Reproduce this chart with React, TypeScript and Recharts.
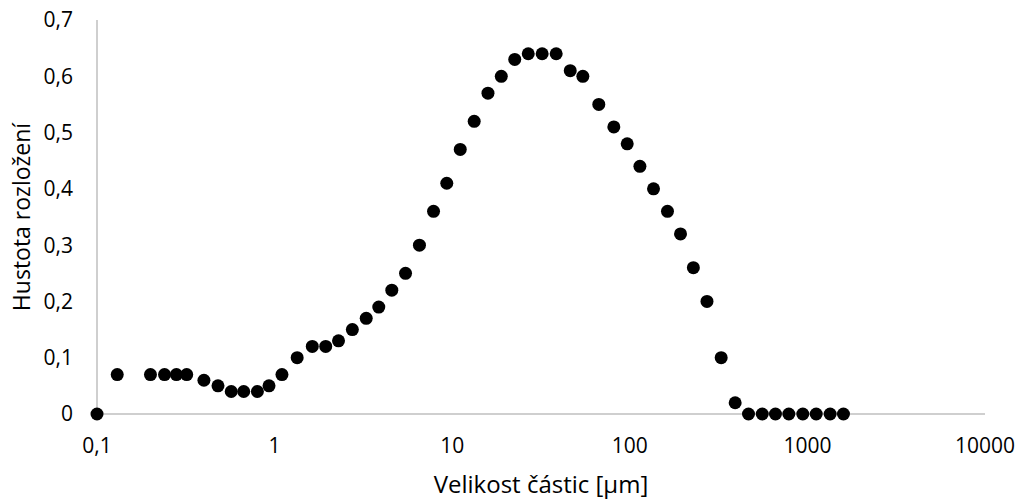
import { ScatterChart, Scatter, XAxis, YAxis } from 'recharts'

// particle size classes [µm]
const sizes = [
  0.1, 0.13, 0.2, 0.24, 0.28, 0.32, 0.4, 0.48, 0.57, 0.67, 0.8, 0.93,
  1.1, 1.34, 1.63, 1.94, 2.29, 2.74, 3.28, 3.86, 4.57, 5.46, 6.54, 7.85,
  9.32, 11.1, 13.3, 15.9, 18.9, 22.5, 26.8, 32.1, 38.5, 46.2, 54.4, 66.9,
  81.3, 96.7, 114, 136, 163, 193, 228, 272, 327, 392, 466, 557,
  661, 786, 942, 1121, 1343, 1596,
]

// distribution density for each class
const density = [
  0, 0.07, 0.07, 0.07, 0.07, 0.07, 0.06, 0.05, 0.04, 0.04, 0.04, 0.05,
  0.07, 0.1, 0.12, 0.12, 0.13, 0.15, 0.17, 0.19, 0.22, 0.25, 0.3, 0.36,
  0.41, 0.47, 0.52, 0.57, 0.6, 0.63, 0.64, 0.64, 0.64, 0.61, 0.6, 0.55,
  0.51, 0.48, 0.44, 0.4, 0.36, 0.32, 0.26, 0.2, 0.1, 0.02, 0, 0,
  0, 0, 0, 0, 0, 0,
]

const xTicks = [0.1, 1, 10, 100, 1000, 10000]
const yTicks = [0, 0.1, 0.2, 0.3, 0.4, 0.5, 0.6, 0.7]

const points = sizes.map((x, i) => ({ x, y: density[i] }))

const font = '"Open Sans", "Noto Sans", sans-serif'
const comma = (v: number) => String(v).replace('.', ',')

const XTick = (p: any) => (
  <text x={p.x} y={p.y} dy="0.71em" textAnchor="middle" fill="#000" fontSize={21} fontFamily={font}>
    {comma(p.payload.value)}
  </text>
)

const YTick = (p: any) => (
  <text x={p.x} y={p.y} dy="0.355em" textAnchor="end" fill="#000" fontSize={21} fontFamily={font}>
    {comma(p.payload.value)}
  </text>
)

export default function App() {
  return (
    <div style={{ position: 'absolute', left: 0, top: 0, background: '#fff' }}>
      <ScatterChart
        width={1018}
        height={499}
        margin={{ top: 20, right: 33, left: 0, bottom: 0 }}
        style={{ fontFamily: font }}
      >
        <XAxis
          type="number"
          dataKey="x"
          scale="log"
          domain={[0.1, 10000]}
          ticks={xTicks}
          interval={0}
          tickLine={false}
          axisLine={{ stroke: '#bfbfbf', strokeWidth: 1.5 }}
          tick={XTick}
          tickMargin={18}
          height={85}
          label={{
            value: 'Velikost částic [μm]',
            position: 'insideBottom',
            offset: 6,
            fill: '#000',
            fontSize: 24,
          }}
        />
        <YAxis
          type="number"
          dataKey="y"
          domain={[0, 0.7]}
          ticks={yTicks}
          interval={0}
          tickLine={false}
          axisLine={{ stroke: '#bfbfbf', strokeWidth: 1.5 }}
          tick={YTick}
          tickMargin={18}
          width={97}
          label={{
            value: 'Hustota rozložení',
            angle: -90,
            position: 'insideLeft',
            offset: 22,
            style: { textAnchor: 'middle' },
            fill: '#000',
            fontSize: 23,
          }}
        />
        <Scatter
          data={points}
          fill="#000"
          shape={(p: any) => <circle cx={p.cx} cy={p.cy} r={6.5} fill="#000" />}
          isAnimationActive={false}
        />
      </ScatterChart>
    </div>
  )
}
